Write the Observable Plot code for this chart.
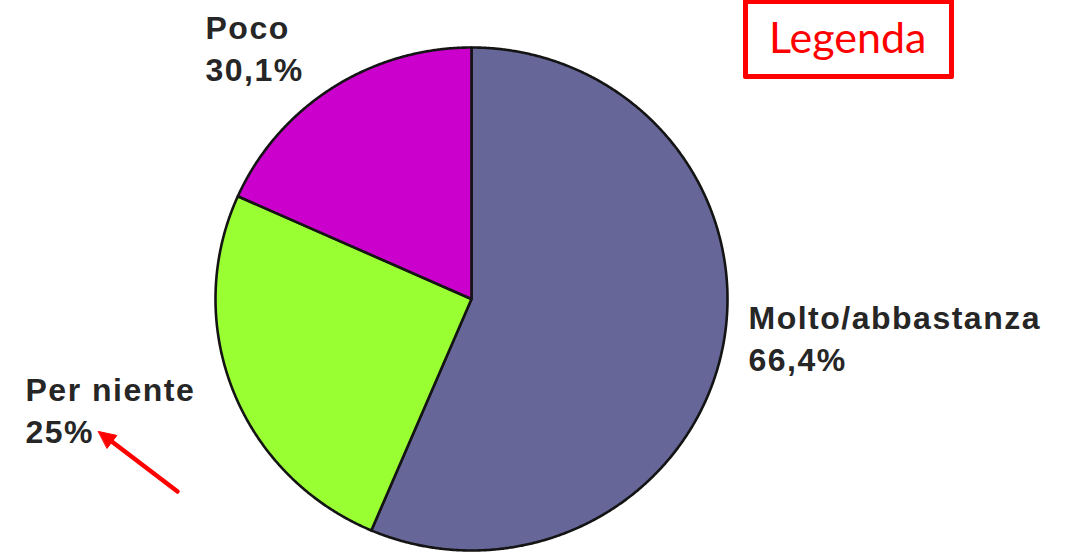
<!DOCTYPE html>
<html><head><meta charset="utf-8">
<script src="https://cdn.jsdelivr.net/npm/d3@7"></script>
<script src="https://cdn.jsdelivr.net/npm/@observablehq/plot@0.6"></script>
<style>
html,body{margin:0;padding:0;background:#fff;}
#chart{position:relative;width:1066px;height:554px;overflow:hidden;}
#legend{position:absolute;left:743px;top:-1px;width:201px;height:70px;border:5px solid #ff0000;border-radius:2px;background:#fff;}
#legend span{position:absolute;left:21px;top:11px;font-family:Lato,"Open Sans",sans-serif;font-size:43px;color:#ff0000;line-height:1;white-space:nowrap;}
</style></head><body><div id="chart"></div>
<script>
// ---- data ----
const categories = ["Molto/abbastanza", "Per niente", "Poco"];
const values = [56.4, 25.3, 18.3];            // slice shares
const percentLabels = ["66,4%", "25%", "30,1%"]; // printed labels
const colors = ["#666699", "#99ff33", "#cc00cc"];
const legendTitle = "Legenda";

// ---- layout (pixels) ----
const W = 1066, H = 554;
const CX = 471, CY = 298.5, RX = 256, RY = 251.5;
const fx = px => (px - CX) / RX;
const fy = py => (CY - py) / RY;
const labelPos = [ // [category index, left x, baseline of name, baseline of percent]
  [2, 205, 38, 80],
  [0, 748, 328, 370],
  [1, 25, 400, 442]
];
const arrowPos = {x1: 177, y1: 491, x2: 98, y2: 431};
const headLen = 17, headHalf = 8;

// ---- slices ----
const total = d3.sum(values);
let acc = 0;
const pts = [];
categories.forEach((c, i) => {
  const a0 = acc / total * 2 * Math.PI;
  acc += values[i];
  const a1 = acc / total * 2 * Math.PI;
  pts.push({c, x: 0, y: 0});
  const n = Math.max(2, Math.ceil((a1 - a0) / 0.005));
  for (let k = 0; k <= n; k++) {
    const a = a0 + (a1 - a0) * k / n;
    pts.push({c, x: Math.sin(a), y: Math.cos(a)});
  }
});

const labelRows = [];
for (const [i, x, yName, yPct] of labelPos) {
  labelRows.push({t: categories[i], px: x, py: yName});
  labelRows.push({t: percentLabels[i], px: x, py: yPct});
}

// arrow geometry (pixels -> data)
const adx = arrowPos.x2 - arrowPos.x1, ady = arrowPos.y2 - arrowPos.y1;
const alen = Math.hypot(adx, ady), ux = adx / alen, uy = ady / alen;
const bx = arrowPos.x2 - ux * headLen, by = arrowPos.y2 - uy * headLen;
const shaft = [{px: arrowPos.x1, py: arrowPos.y1}, {px: bx + ux * 2, py: by + uy * 2}];
const head = [
  {px: arrowPos.x2, py: arrowPos.y2},
  {px: bx - uy * headHalf, py: by + ux * headHalf},
  {px: bx + uy * headHalf, py: by - ux * headHalf}
];

const chart = Plot.plot({
  width: W, height: H, margin: 0,
  x: {domain: [fx(0), fx(W)], axis: null},
  y: {domain: [fy(H), fy(0)], axis: null},
  color: {domain: categories, range: colors},
  style: {background: "#fff", letterSpacing: "1.5px", overflow: "visible"},
  marks: [
    Plot.line(pts, {x: "x", y: "y", z: "c", fill: "c", stroke: "#141414", strokeWidth: 2.6, curve: "linear-closed", strokeLinejoin: "round"}),
    Plot.text(labelRows, {x: d => fx(d.px), y: d => fy(d.py), text: "t", textAnchor: "start", lineAnchor: "bottom",
      fontSize: 32, fontWeight: "bold", fill: "#262626", fontFamily: "'Liberation Sans', Arial, sans-serif"}),
    Plot.line(shaft, {x: d => fx(d.px), y: d => fy(d.py), stroke: "#ff0000", strokeWidth: 4.5}),
    Plot.line(head, {x: d => fx(d.px), y: d => fy(d.py), fill: "#ff0000", stroke: "#ff0000", strokeWidth: 1, curve: "linear-closed"})
  ]
});
const root = document.getElementById("chart");
root.appendChild(chart);
const lg = document.createElement("div");
lg.id = "legend";
const sp = document.createElement("span");
sp.textContent = legendTitle;
lg.appendChild(sp);
root.appendChild(lg);
</script></body></html>
